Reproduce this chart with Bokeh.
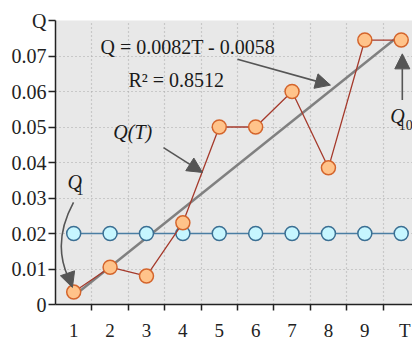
from bokeh.plotting import figure
from bokeh.models import (Range1d, FixedTicker, Label, Arrow, NormalHead)
from bokeh.embed import file_html
from bokeh.resources import INLINE

# ---- data ----
T = [1, 2, 3, 4, 5, 6, 7, 8, 9, 10]
Q_obs = [0.0035, 0.0105, 0.008, 0.023, 0.050, 0.050, 0.060, 0.0385, 0.0745, 0.0745]
Q_ref = [0.02, 0.02, 0.02, 0.02, 0.02, 0.02, 0.02, 0.02, 0.02, 0.02]
fit_T = [1, 10]
fit_Q = [0.0024, 0.0762]
x_ticks = [1, 2, 3, 4, 5, 6, 7, 8, 9, 10.1]
x_tick_labels = ["1", "2", "3", "4", "5", "6", "7", "8", "9", "T"]
x_minor_ticks = [1.5, 2.5, 3.5, 4.5, 5.5, 6.5, 7.5, 8.5, 9.5]
y_ticks = [0, 0.01, 0.02, 0.03, 0.04, 0.05, 0.06, 0.07, 0.08]
y_tick_labels = ["0", "0.01", "0.02", "0.03", "0.04", "0.05", "0.06", "0.07", "Q"]
eq_text = "Q = 0.0082T - 0.0058"
r2_text = "R²  = 0.8512"

SERIF = "Liberation Serif"
TXT = "#222222"

p = figure(width=412, height=343, output_backend="svg", toolbar_location=None,
           x_range=Range1d(0.5, 10.31), y_range=Range1d(0, 0.08),
           min_border_left=55, min_border_top=20, min_border_right=0,
           min_border_bottom=37)
p.outline_line_color = None
p.background_fill_color = "#e8e8e8"
p.border_fill_color = "white"

# axes
xa = p.xaxis[0]
xa.ticker = FixedTicker(ticks=x_ticks, minor_ticks=x_minor_ticks)
xa.major_label_overrides = {v: s for v, s in zip(x_ticks, x_tick_labels)}
xa.major_tick_out = 0
xa.major_tick_in = 0
xa.minor_tick_out = 6
xa.minor_tick_in = 0
xa.minor_tick_line_color = TXT
xa.minor_tick_line_width = 1.5
xa.axis_line_color = TXT
xa.axis_line_width = 1.5
xa.major_label_standoff = 9
xa.major_label_text_font = SERIF
xa.major_label_text_font_size = "19px"
xa.major_label_text_color = TXT

ya = p.yaxis[0]
ya.ticker = FixedTicker(ticks=y_ticks, minor_ticks=[])
ya.major_label_overrides = {v: s for v, s in zip(y_ticks, y_tick_labels)}
ya.major_tick_out = 7
ya.major_tick_in = 0
ya.major_tick_line_color = TXT
ya.major_tick_line_width = 1.5
ya.axis_line_color = TXT
ya.axis_line_width = 1.5
ya.major_label_standoff = 2
ya.major_label_text_font = SERIF
ya.major_label_text_font_size = "20px"
ya.major_label_text_color = TXT

# grids
p.xgrid.grid_line_color = None
p.xgrid.minor_grid_line_color = "#a8a8a8"
p.xgrid.minor_grid_line_dash = "1 3"
p.xgrid.minor_grid_line_width = 1.2
p.ygrid.grid_line_color = "#a8a8a8"
p.ygrid.grid_line_dash = "1 3"
p.ygrid.grid_line_width = 1.2

# regression line
p.line(fit_T, fit_Q, line_color="#808080", line_width=2.5)

# reference series (blue)
p.line(T, Q_ref, line_color="#4a7ea3", line_width=1.5)
p.scatter(T, Q_ref, size=14, fill_color="#c6f6ff", line_color="#3b6f93", line_width=1.5)

# observed series (orange)
p.line(T, Q_obs, line_color="#a53a2c", line_width=1.3)
p.scatter(T, Q_obs, size=14, fill_color="#ffc38a", line_color="#d4652c", line_width=1.5)

# text annotations
def lab(x, y, text, size="20px", style="normal", align="left", baseline="middle"):
    p.add_layout(Label(x=x, y=y, text=text, text_font=SERIF, text_font_size=size,
                       text_font_style=style, text_color="#1a1a1a",
                       text_align=align, text_baseline=baseline))

lab(1.736, 0.0724, eq_text)
lab(2.505, 0.0632, r2_text)
lab(2.09, 0.0487, "Q(T)", style="italic")
lab(0.83, 0.0344, "Q", style="italic")
lab(1.08, 0.0322, "1", size="14px")
lab(9.70, 0.0531, "Q", style="italic")
lab(9.93, 0.0506, "10", size="14px")

# arrows
def arr(x0, y0, x1, y1, show_line=True):
    p.add_layout(Arrow(x_start=x0, y_start=y0, x_end=x1, y_end=y1,
                       line_color="#555555", line_width=1.6,
                       line_alpha=1.0 if show_line else 0.0,
                       end=NormalHead(size=15, fill_color="#555555",
                                      line_color="#555555")))

arr(5.5, 0.0691, 8.055, 0.0618)
arr(3.467, 0.0442, 4.538, 0.0372)
arr(10.03, 0.0576, 10.03, 0.0706)

# curved arrow to Q1
p.quadratic(x0=[0.995], y0=[0.0288], x1=[0.857], y1=[0.0075],
            cx=[0.40], cy=[0.0175], line_color="#555555", line_width=1.6)
arr(0.83, 0.0088, 0.965, 0.0048, show_line=False)

open("out.html", "w").write(file_html(p, INLINE))
